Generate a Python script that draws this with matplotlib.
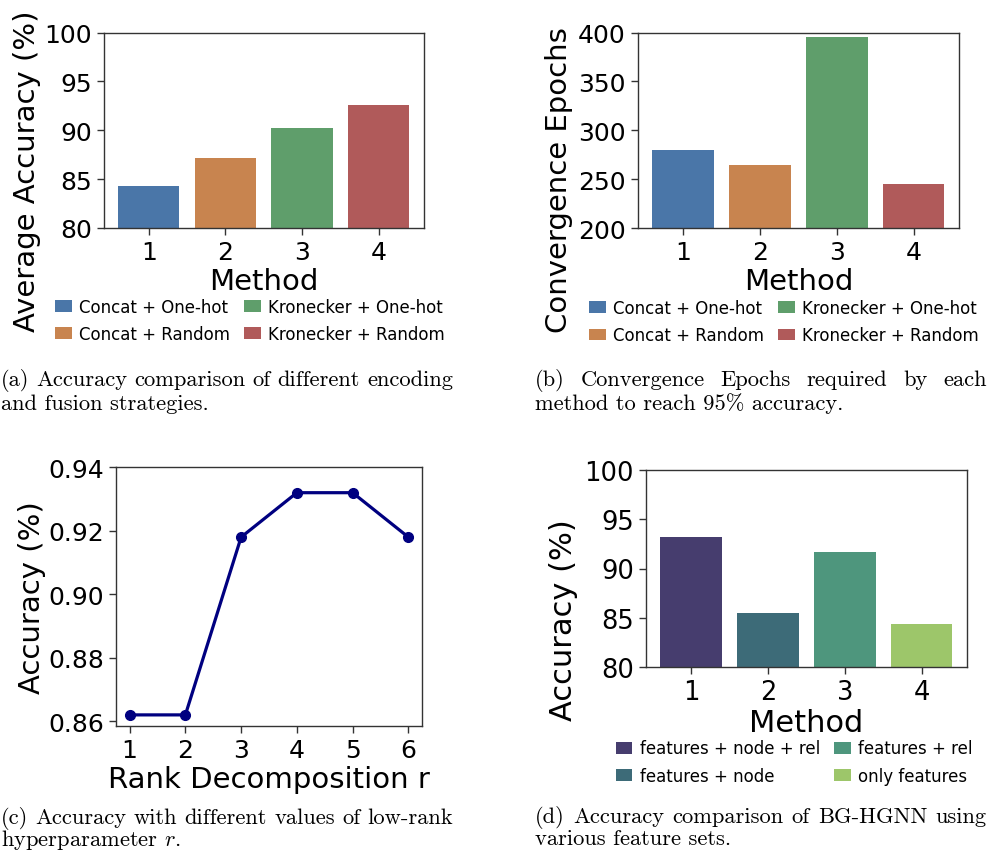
import matplotlib
matplotlib.use("Agg")
import matplotlib.pyplot as plt

W, H = 990, 853

# ---- data -------------------------------------------------------------
methods = [1, 2, 3, 4]
fusion_labels = ["Concat + One-hot", "Concat + Random",
                 "Kronecker + One-hot", "Kronecker + Random"]
avg_accuracy = [84.3, 87.2, 90.2, 92.6]
convergence_epochs = [280, 265, 395, 245]
fusion_colors = ["#4a76a8", "#c8844f", "#5f9e6b", "#b05a5a"]

ranks = [1, 2, 3, 4, 5, 6]
rank_accuracy = [0.862, 0.862, 0.918, 0.932, 0.932, 0.918]

feature_labels = ["features + node + rel", "features + node",
                  "features + rel", "only features"]
feature_accuracy = [93.2, 85.5, 91.7, 84.4]
feature_colors = ["#463d6e", "#3d6b78", "#4e967d", "#9dc66a"]

captions = {
    "a": ["(a) Accuracy comparison of different encoding",
          "and fusion strategies."],
    "b": ["(b) Convergence Epochs required by each",
          "method to reach 95% accuracy."],
    "c": ["(c) Accuracy with different values of low-rank",
          "hyperparameter $r$."],
    "d": ["(d) Accuracy comparison of BG-HGNN using",
          "various feature sets."],
}

plt.rcParams["mathtext.fontset"] = "cm"
SPINE = "#333333"

fig = plt.figure(figsize=(W / 100, H / 100), dpi=100)
renderer = fig.canvas.get_renderer()


def axes_px(left, top, right, bottom):
    return fig.add_axes([left / W, 1 - bottom / H,
                         (right - left) / W, (bottom - top) / H])


def fig_xy(x, y):
    return x / W, 1 - y / H


def style(ax, tick_fs):
    for s in ax.spines.values():
        s.set_color(SPINE)
        s.set_linewidth(1.0)
    ax.tick_params(labelsize=tick_fs, color=SPINE, length=5, width=1.0)


def place_ylabel(ax, text, fs, x, y):
    ax.set_ylabel(text, fontsize=fs, va="center", ha="center")
    ax.yaxis.set_label_coords(*fig_xy(x, y), transform=fig.transFigure)


def bar_panel(ax, values, colors, labels, ylim, yticks, tick_fs, label_fs,
              legend_xy):
    bars = ax.bar(methods, values, width=0.8, color=colors)
    ax.set_ylim(*ylim)
    ax.set_yticks(yticks)
    ax.set_xticks(methods)
    ax.set_xlabel("Method", fontsize=label_fs, labelpad=2)
    style(ax, tick_fs)
    ax.legend(bars.patches, labels, ncol=2, loc="upper left",
              bbox_to_anchor=fig_xy(*legend_xy),
              bbox_transform=fig.transFigure, frameon=False,
              fontsize=12, handlelength=1.0, handleheight=0.7,
              handletextpad=0.45, columnspacing=0.85, labelspacing=0.55,
              borderpad=0, borderaxespad=0)


def caption(lines, x0, y0, width, fs=16.2, leading=24.0):
    # first line fully justified, second line set ragged
    words = lines[0].split(" ")
    texts = [fig.text(0, 1 - y0 / H, w, fontsize=fs, family="cmr10",
                      va="baseline") for w in words]
    widths = [t.get_window_extent(renderer).width for t in texts]
    gap = (width - sum(widths)) / (len(words) - 1)
    x = x0
    for t, w in zip(texts, widths):
        t.set_x(x / W)
        x += w + gap
    fig.text(x0 / W, 1 - (y0 + leading) / H, lines[1], fontsize=fs,
             family="cmr10", va="baseline")


# ---- (a) average accuracy -------------------------------------------
ax_a = axes_px(103.5, 33.5, 424, 229)
bar_panel(ax_a, avg_accuracy, fusion_colors, fusion_labels, (80, 100),
          [80, 85, 90, 95, 100], 18, 21, (55, 299))
place_ylabel(ax_a, "Average Accuracy (%)", 21, 26.7, 171)

# ---- (b) convergence epochs -----------------------------------------
ax_b = axes_px(637.7, 33.5, 959, 229.3)
bar_panel(ax_b, convergence_epochs, fusion_colors, fusion_labels, (200, 400),
          [200, 250, 300, 350, 400], 18, 21, (589, 300))
place_ylabel(ax_b, "Convergence Epochs", 21, 559, 180.5)

# ---- (c) rank decomposition -----------------------------------------
ax_c = axes_px(115.7, 468.3, 422.3, 727)
ax_c.plot(ranks, rank_accuracy, color="navy", lw=2.3, marker="o", ms=7)
ax_c.set_xticks(ranks)
ax_c.set_yticks([0.86, 0.88, 0.90, 0.92, 0.94])
ax_c.set_xlabel("Rank Decomposition r", fontsize=21, labelpad=2)
style(ax_c, 18)
place_ylabel(ax_c, "Accuracy (%)", 21, 32.5, 598)

# ---- (d) feature sets -----------------------------------------------
ax_d = axes_px(645.7, 470.7, 967, 668.3)
bar_panel(ax_d, feature_accuracy, feature_colors, feature_labels, (80, 100),
          [80, 85, 90, 95, 100], 18.5, 22, (615.7, 740.5))
place_ylabel(ax_d, "Accuracy (%)", 22, 564, 620)

# ---- captions --------------------------------------------------------
caption(captions["a"], 1, 386, 452)
caption(captions["b"], 535, 386, 452)
caption(captions["c"], 1, 824, 452, leading=22)
caption(captions["d"], 535, 823, 452, leading=22)

fig.savefig("out.png", dpi=100)
